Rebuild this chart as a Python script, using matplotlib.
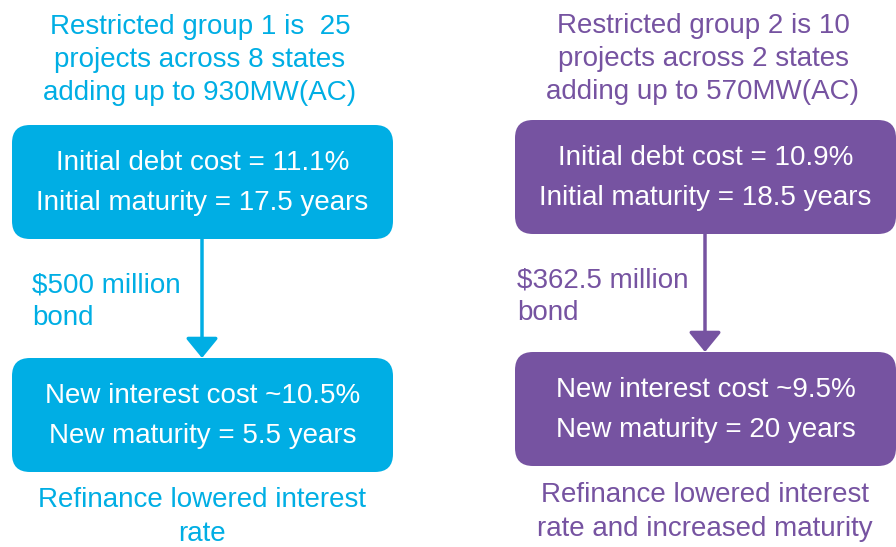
import matplotlib.pyplot as plt
from matplotlib.patches import FancyBboxPatch

plt.rcParams['font.family'] = ['Liberation Sans', 'DejaVu Sans']

# text content of the two groups
titles = [
    'Restricted group 1 is  25\nprojects across 8 states\nadding up to 930MW(AC)',
    'Restricted group 2 is 10\nprojects across 2 states\nadding up to 570MW(AC)',
]
initial_text = [
    ['Initial debt cost = 11.1%', 'Initial maturity = 17.5 years'],
    ['Initial debt cost = 10.9%', 'Initial maturity = 18.5 years'],
]
bond_text = ['$500 million\nbond', '$362.5 million\nbond']
new_text = [
    ['New interest cost ~10.5%', 'New maturity = 5.5 years'],
    ['New interest cost ~9.5%', 'New maturity = 20 years'],
]
outcome = [
    'Refinance lowered interest\nrate',
    'Refinance lowered interest\nrate and increased maturity',
]
colors = ['#00AEE4', '#7653A1']

# layout in pixel units
box_x = [12, 515]
box_w = 381
col_cx = [202, 705]
title_y = [60, 59]
box1_y = [125, 120]
box2_y = [358, 352]
box_h = 114
bond_x = [32, 517]
bond_y = [302, 297]
out_y = [517, 512]

fig = plt.figure(figsize=(8.96, 5.47), dpi=100)
ax = fig.add_axes([0, 0, 1, 1])
ax.set_xlim(0, 896)
ax.set_ylim(547, 0)
ax.axis('off')

for i in range(2):
    c = colors[i]
    ax.text(col_cx[i] - 2, title_y[i], titles[i], ha='center', va='center',
            color=c, fontsize=20, linespacing=1.33)
    for y0, lines in [(box1_y[i], initial_text[i]), (box2_y[i], new_text[i])]:
        ax.add_patch(FancyBboxPatch((box_x[i], y0), box_w, box_h,
                                    boxstyle='round,pad=0,rounding_size=18',
                                    fc=c, ec='none'))
        ax.text(box_x[i] + box_w / 2, y0 + box_h * 0.33, lines[0], ha='center',
                va='center', color='white', fontsize=20)
        ax.text(box_x[i] + box_w / 2, y0 + box_h * 0.68, lines[1], ha='center',
                va='center', color='white', fontsize=20)
    ax.annotate('', xy=(col_cx[i], box2_y[i]), xytext=(col_cx[i], box1_y[i] + box_h),
                arrowprops=dict(arrowstyle='-|>,head_width=0.45,head_length=0.55',
                                color=c, lw=2.5, mutation_scale=22,
                                shrinkA=0, shrinkB=0))
    ax.text(bond_x[i], bond_y[i], bond_text[i], ha='left', va='center',
            color=c, fontsize=20, linespacing=1.33)
    ax.text(col_cx[i], out_y[i], outcome[i], ha='center', va='center',
            color=c, fontsize=20, linespacing=1.37)

fig.savefig('out.png', dpi=100)
